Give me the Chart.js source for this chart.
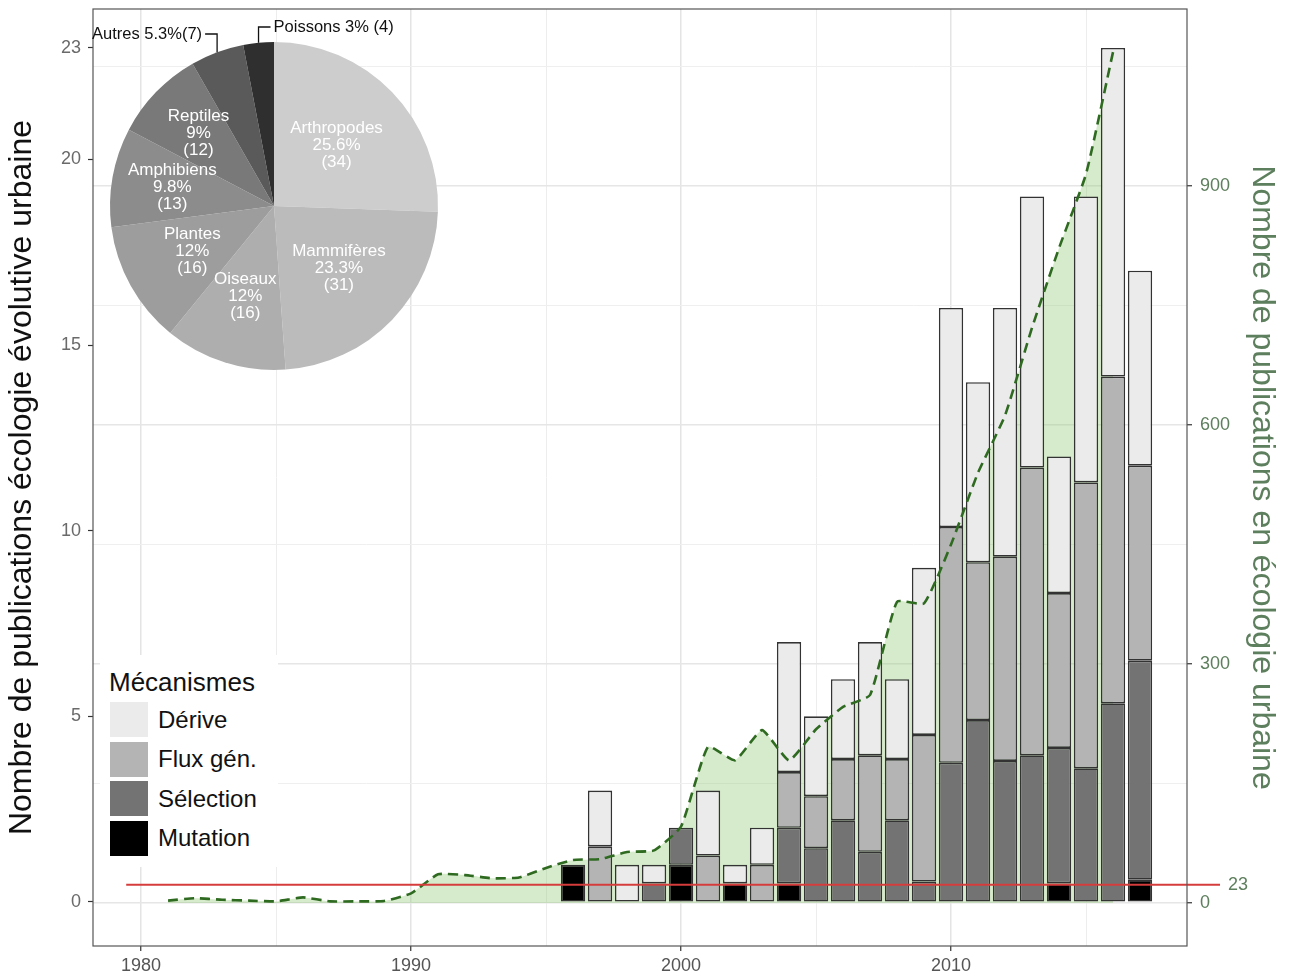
<!DOCTYPE html>
<html lang="fr">
<head>
<meta charset="utf-8">
<title>Publications en écologie évolutive urbaine</title>
<script src="https://cdn.jsdelivr.net/npm/chart.js@4.4.1/dist/chart.umd.min.js"></script>
<style>
  html, body { margin: 0; padding: 0; background: #fff; }
  #wrap { position: relative; width: 1292px; height: 975px; overflow: hidden; }
  #main { position: absolute; left: 0; top: 0; }
  #pie { position: absolute; left: 90px; top: 10px; }
  #legend { position: absolute; left: 100px; top: 655px; width: 178px; height: 212px; background: #fff;
            font-family: "Liberation Sans", Arial, sans-serif; color: #111; }
  #legend .title { position: absolute; left: 9px; top: 14px; font-size: 26px; line-height: 1; }
  #legend .row { position: absolute; left: 10px; height: 35px; display: flex; align-items: center; }
  #legend .key { width: 38px; height: 35px; margin-right: 10px; }
  #legend .lab { font-size: 24px; line-height: 1; }
</style>
</head>
<body>
<div id="wrap">
  <canvas id="main" width="1292" height="975"></canvas>
  <canvas id="pie" width="360" height="370"></canvas>
  <div id="legend"><div class="title">Mécanismes</div></div>
</div>
<script>
// publications en écologie évolutive urbaine, par mécanisme (barres empilées)
const years = [1996, 1997, 1998, 1999, 2000, 2001, 2002, 2003, 2004, 2005, 2006,
               2007, 2008, 2009, 2010, 2011, 2012, 2013, 2014, 2015, 2016, 2017];
const mutation  = [1, 0,   0, 0,   1, 0,    0.5, 0, 0.5, 0,    0,    0,    0,    0,    0,    0,    0,    0,    0.5,  0,    0,    0.6];
const selection = [0, 0,   0, 0.5, 1, 0,    0,   0, 1.5, 1.45, 2.2,  1.35, 2.2,  0.55, 3.75, 4.9,  3.8,  3.95, 3.65, 3.6,  5.35, 5.9];
const flux      = [0, 1.5, 0, 0,   0, 1.25, 0,   1, 1.5, 1.4,  1.65, 2.6,  1.65, 3.95, 6.35, 4.25, 5.5,  7.75, 4.17, 7.7,  8.8,  5.25];
const derive    = [0, 1.5, 1, 0.5, 0, 1.75, 0.5, 1, 3.5, 2.15, 2.15, 3.05, 2.15, 4.5,  5.9,  4.85, 6.7,  7.3,  3.68, 7.7,  8.85, 5.25];

const mechNames  = ['Mutation', 'Sélection', 'Flux gén.', 'Dérive'];
const mechColors = ['#000000', '#737373', '#b4b4b4', '#ebebeb'];

// publications en écologie urbaine (axe de droite)
const lineYears = [1981, 1982, 1983, 1984, 1985, 1986, 1987, 1988, 1989, 1990,
                   1991, 1992, 1993, 1994, 1995, 1996, 1997, 1998, 1999, 2000,
                   2001, 2002, 2003, 2004, 2005, 2006, 2007, 2008, 2009, 2010,
                   2011, 2012, 2013, 2014, 2015, 2016];
const urbanEco = [3, 6, 4, 3, 2, 7, 2, 2, 2.5, 12,
                  36, 35, 31, 32, 44, 54, 55, 64, 66, 96,
                  196, 179, 217, 179, 218, 246, 261, 378, 376, 450,
                  540, 612, 722, 822, 915, 1068];
const refLine = 23;

// axes
const xTicks  = [1980, 1985, 1990, 1995, 2000, 2005, 2010, 2015];
const yTicks  = [0, 5, 10, 15, 20, 23];
const y2Ticks = [0, 150, 300, 450, 600, 750, 900, 1050];

// camembert : groupes taxonomiques
const pieNames  = ['Arthropodes', 'Mammifères', 'Oiseaux', 'Plantes', 'Amphibiens', 'Reptiles', 'Autres', 'Poissons'];
const pieCounts = [34, 31, 16, 16, 13, 12, 7, 4];
const pieColors = ['#cdcdcd', '#bbbbbb', '#aeaeae', '#9d9d9d', '#8c8c8c', '#797979', '#5a5a5a', '#2f2f2f'];

const FONT = '"Liberation Sans", Arial, Helvetica, sans-serif';
Chart.defaults.font.family = FONT;
const green = '#5d7f5d';

function pctText(n, total) {
  let p = (n / total * 100).toFixed(1);
  if (p.endsWith('.0')) p = p.slice(0, -2);
  return p + '%';
}

// fixed box sizes so the plot panel lands where the original one is
function fixBox(size) {
  return s => {
    if (s.isHorizontal()) s.height = size; else s.width = size;
    s.paddingTop = 0; s.paddingBottom = 0; s.paddingLeft = 0; s.paddingRight = 0;
  };
}

// trait rouge (23) + cadre du panneau
const frame = {
  id: 'frame',
  afterDatasetsDraw(chart) {
    const {ctx, chartArea: a, scales} = chart;
    const yr = scales.y2.getPixelForValue(refLine);
    ctx.save();
    ctx.strokeStyle = '#d63c3c';
    ctx.lineWidth = 2;
    ctx.beginPath();
    ctx.moveTo(scales.x.getPixelForValue(1979.45), yr);
    ctx.lineTo(a.right + 33, yr);
    ctx.stroke();
    ctx.fillStyle = green;
    ctx.font = '18px ' + FONT;
    ctx.textBaseline = 'middle';
    ctx.fillText(String(refLine), a.right + 41, yr);
    ctx.strokeStyle = '#555';
    ctx.lineWidth = 1.2;
    ctx.strokeRect(a.left, a.top, a.width, a.height);
    ctx.restore();
  }
};

const barSets = mechNames.map((name, k) => {
  const vals = [mutation, selection, flux, derive][k];
  return {
    type: 'bar',
    label: name,
    data: years.map((yr, i) => ({x: yr, y: vals[i] || null})),
    backgroundColor: mechColors[k],
    borderColor: '#333',
    borderWidth: 1.6,
    borderSkipped: false,
    barPercentage: 0.9,
    categoryPercentage: 1,
    yAxisID: 'y'
  };
});

new Chart(document.getElementById('main'), {
  type: 'bar',
  data: {
    datasets: [...barSets, {
      type: 'line',
      label: 'écologie urbaine',
      data: lineYears.map((yr, i) => ({x: yr, y: urbanEco[i]})),
      borderColor: '#2f6a21',
      borderWidth: 2.6,
      borderDash: [10, 6],
      pointRadius: 0,
      tension: 0.15,
      fill: 'origin',
      backgroundColor: 'rgba(140, 200, 110, 0.36)',
      yAxisID: 'y2',
      order: -1
    }]
  },
  options: {
    responsive: false,
    devicePixelRatio: 1,
    animation: false,
    layout: {padding: {top: 9, left: 0, right: 0, bottom: 0}},
    plugins: {
      legend: {display: false},
      tooltip: {enabled: false},
      filler: {drawTime: 'beforeDatasetsDraw'}
    },
    scales: {
      x: {
        type: 'linear', min: 1978.22, max: 2018.74, stacked: true, offset: false,
        afterBuildTicks: s => { s.ticks = xTicks.map(v => ({value: v})); },
        afterFit: fixBox(29),
        border: {display: false},
        grid: {
          offset: false,
          color: c => c.tick && c.tick.value % 10 === 0 ? '#e4e4e4' : '#ededed',
          lineWidth: c => c.tick && c.tick.value % 10 === 0 ? 1.5 : 1,
          tickLength: 5,
          tickColor: c => c.tick && c.tick.value % 10 === 0 ? '#333' : 'rgba(0,0,0,0)',
          tickWidth: 1.2
        },
        ticks: {
          callback: v => v % 10 === 0 ? String(v) : '',
          autoSkip: false, maxRotation: 0, padding: 4,
          color: '#555', font: {size: 18}
        }
      },
      y: {
        position: 'left', min: -1.185, max: 24.05, stacked: true,
        afterBuildTicks: s => { s.ticks = yTicks.map(v => ({value: v})); },
        afterFit: fixBox(93),
        border: {display: false},
        grid: {drawOnChartArea: false, tickLength: 5, tickColor: '#333', tickWidth: 1.2},
        ticks: {color: '#6a6a6a', padding: 7, font: {size: 18}},
        title: {
          display: true,
          text: 'Nombre de publications écologie évolutive urbaine',
          color: '#111', font: {size: 32}, padding: {top: 3, bottom: 0}
        }
      },
      y2: {
        position: 'right', min: -54, max: 1122,
        afterBuildTicks: s => { s.ticks = y2Ticks.map(v => ({value: v})); },
        afterFit: fixBox(105),
        border: {display: false},
        grid: {
          drawOnChartArea: true,
          color: c => c.tick && c.tick.value % 300 === 0 ? '#e6e6e6' : '#efefef',
          lineWidth: c => c.tick && c.tick.value % 300 === 0 ? 1.5 : 1,
          tickLength: 5,
          tickColor: c => c.tick && c.tick.value % 300 === 0 ? '#333' : 'rgba(0,0,0,0)',
          tickWidth: 1.2
        },
        ticks: {
          callback: v => v % 300 === 0 ? String(v) : '',
          autoSkip: false, padding: 8, color: green, font: {size: 18}
        },
        title: {
          display: true,
          text: 'Nombre de publications en écologie urbaine',
          color: green, font: {size: 32}, padding: {top: 11, bottom: 0}
        }
      }
    }
  },
  plugins: [frame]
});

// étiquettes du camembert
const pieOutside = {6: {side: -1, y: 34, sep: ''}, 7: {side: 1, y: 27, sep: ' '}};
const pieLabelRadius = [0.53, 0.55, 0.58, 0.57, 0.63, 0.64];
const pieLabels = {
  id: 'pieLabels',
  afterDatasetsDraw(chart) {
    const ctx = chart.ctx;
    const total = pieCounts.reduce((a, b) => a + b, 0);
    chart.getDatasetMeta(0).data.forEach((arc, i) => {
      const p = arc.getProps(['x', 'y', 'startAngle', 'endAngle', 'outerRadius'], true);
      const mid = (p.startAngle + p.endAngle) / 2;
      const pct = pctText(pieCounts[i], total);
      ctx.save();
      const out = pieOutside[i];
      if (out) {
        const ex = p.x + Math.cos(mid) * p.outerRadius;
        const ey = p.y + Math.sin(mid) * p.outerRadius;
        const hx = ex + out.side * 12;
        const ly = out.y - chart.canvas.offsetTop;
        ctx.strokeStyle = '#111';
        ctx.lineWidth = 1.3;
        ctx.beginPath();
        ctx.moveTo(ex, ey);
        ctx.lineTo(ex, ly);
        ctx.lineTo(hx, ly);
        ctx.stroke();
        ctx.fillStyle = '#111';
        ctx.font = '16.5px ' + FONT;
        ctx.textBaseline = 'middle';
        ctx.textAlign = out.side < 0 ? 'right' : 'left';
        ctx.fillText(pieNames[i] + ' ' + pct + out.sep + '(' + pieCounts[i] + ')', hx + out.side * 3, ly);
      } else {
        const r = p.outerRadius * (pieLabelRadius[i] || 0.58);
        const lx = p.x + Math.cos(mid) * r;
        const ly = p.y + Math.sin(mid) * r;
        ctx.fillStyle = '#ffffff';
        ctx.font = '17px ' + FONT;
        ctx.textAlign = 'center';
        ctx.textBaseline = 'middle';
        [pieNames[i], pct, '(' + pieCounts[i] + ')'].forEach((t, k) => {
          ctx.fillText(t, lx, ly + (k - 1) * 17);
        });
      }
      ctx.restore();
    });
  }
};

new Chart(document.getElementById('pie'), {
  type: 'pie',
  data: {
    labels: pieNames,
    datasets: [{data: pieCounts, backgroundColor: pieColors, borderWidth: 0}]
  },
  options: {
    responsive: false,
    devicePixelRatio: 1,
    animation: false,
    layout: {padding: {left: 20, top: 32, right: 12, bottom: 10}},
    plugins: {legend: {display: false}, tooltip: {enabled: false}}
  },
  plugins: [pieLabels]
});

// légende des mécanismes (ordre inverse de l'empilement)
const legend = document.getElementById('legend');
mechNames.slice().reverse().forEach((name, i) => {
  const col = mechColors[mechNames.length - 1 - i];
  const row = document.createElement('div');
  row.className = 'row';
  row.style.top = (47 + i * 39.5) + 'px';
  const key = document.createElement('div');
  key.className = 'key';
  key.style.background = col;
  const lab = document.createElement('span');
  lab.className = 'lab';
  lab.textContent = name;
  row.appendChild(key);
  row.appendChild(lab);
  legend.appendChild(row);
});
</script>
</body>
</html>
